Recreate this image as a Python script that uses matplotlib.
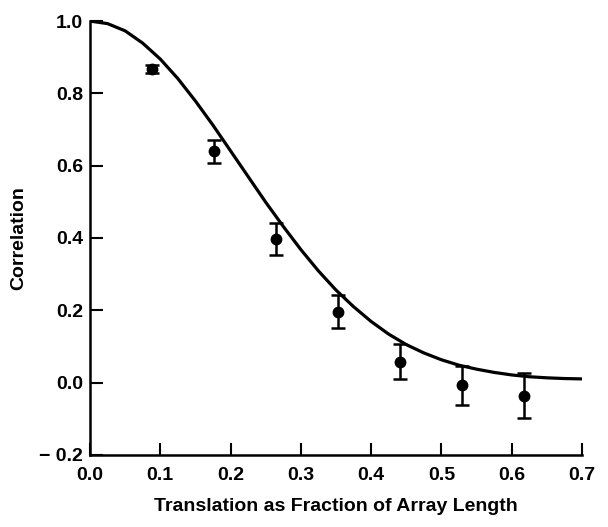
import matplotlib
matplotlib.use("Agg")
import matplotlib.pyplot as plt

# measured points (translation fraction, correlation, error)
shift = [0.088, 0.177, 0.265, 0.353, 0.441, 0.529, 0.617]
corr = [0.867, 0.640, 0.398, 0.196, 0.058, -0.008, -0.036]
err = [0.012, 0.032, 0.044, 0.046, 0.048, 0.055, 0.063]

# predicted curve
curve_x = [0.0, 0.025, 0.05, 0.075, 0.1, 0.125, 0.15, 0.175, 0.2, 0.225,
           0.25, 0.275, 0.3, 0.325, 0.35, 0.375, 0.4, 0.425, 0.45, 0.475,
           0.5, 0.525, 0.55, 0.575, 0.6, 0.625, 0.65, 0.675, 0.7]
curve_y = [1.000, 0.993, 0.973, 0.939, 0.895, 0.841, 0.779, 0.712, 0.641, 0.570,
           0.499, 0.432, 0.368, 0.309, 0.256, 0.210, 0.169, 0.134, 0.105, 0.082,
           0.063, 0.048, 0.037, 0.028, 0.021, 0.016, 0.013, 0.011, 0.010]

xticks = [0.0, 0.1, 0.2, 0.3, 0.4, 0.5, 0.6, 0.7]
yticks = [-0.2, 0.0, 0.2, 0.4, 0.6, 0.8, 1.0]

plt.rcParams['font.family'] = ['Liberation Sans', 'DejaVu Sans']
plt.rcParams['font.weight'] = 'bold'

fig = plt.figure(figsize=(6.08, 5.27), dpi=100)
ax = fig.add_axes([0.148, 0.137, 0.809, 0.823])

ax.plot(curve_x, curve_y, color='black', lw=2.3)
ax.errorbar(shift, corr, yerr=err, fmt='o', color='black', ms=7.5,
            elinewidth=1.8, capsize=5, capthick=1.8)

ax.set_xlim(0, 0.7)
ax.set_ylim(-0.2, 1.0)
ax.set_xticks(xticks)
ax.set_yticks(yticks)
ax.set_xticklabels(['%.1f' % v for v in xticks])
ax.set_yticklabels(['%.1f' % v if v >= 0 else '\u2212 0.2' for v in yticks])
ax.tick_params(direction='in', length=9, width=1.5, labelsize=14, pad=5)
ax.tick_params(axis='x', pad=9)
for s in ['top', 'right']:
    ax.spines[s].set_visible(False)
for s in ['left', 'bottom']:
    ax.spines[s].set_linewidth(1.8)

ax.set_xlabel('Translation as Fraction of Array Length', fontsize=14,
              fontweight='bold', labelpad=10)
ax.set_ylabel('Correlation', fontsize=14, fontweight='bold', labelpad=9)

fig.savefig('out.png', dpi=100)
